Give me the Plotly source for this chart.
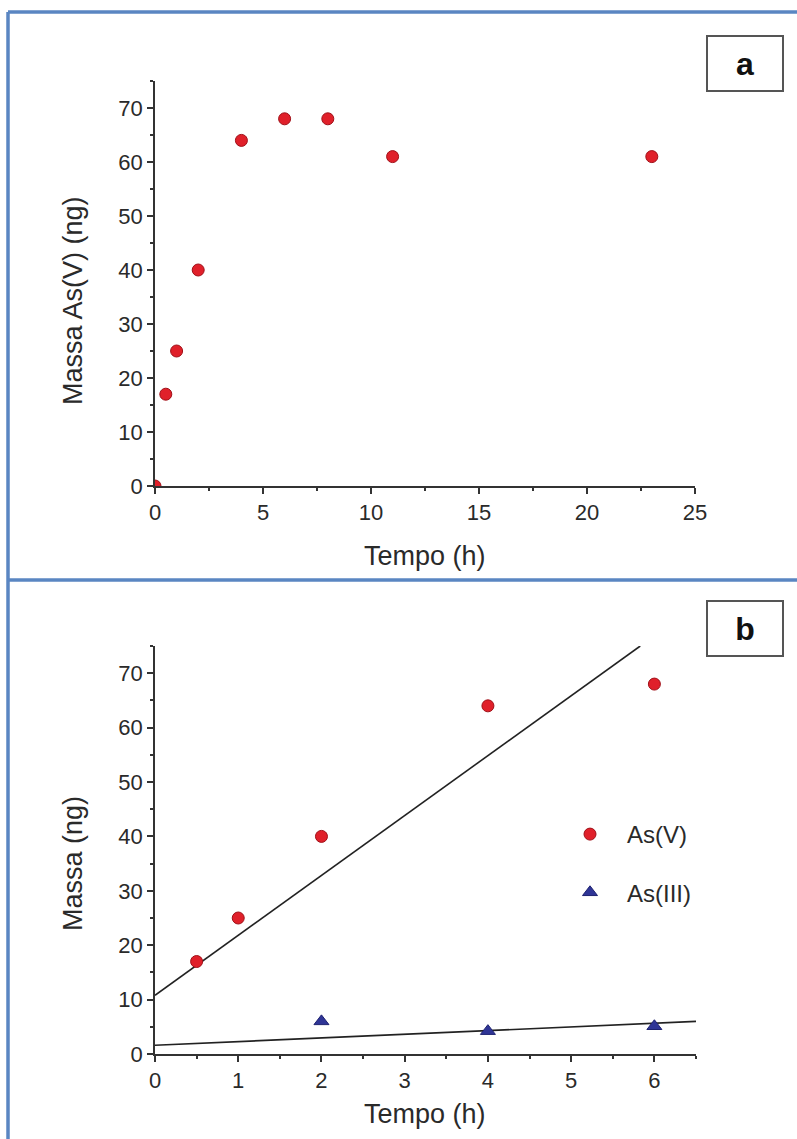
import plotly.graph_objects as go

# ---------------- data ----------------
# Panel a: As(V) mass over time (full 23 h)
time_a = [0, 0.5, 1, 2, 4, 6, 8, 11, 23]
massa_asv_a = [0, 17, 25, 40, 64, 68, 68, 61, 61]

# Panel b: first 6 h
time_b_v = [0.5, 1, 2, 4, 6]
massa_asv_b = [17, 25, 40, 64, 68]
time_b_iii = [2, 4, 6]
massa_asiii_b = [6.0, 4.2, 5.1]

# Fitted lines (end points)
fit_v_x = [0, 5.83]
fit_v_y = [10.8, 75]
fit_iii_x = [0, 6.5]
fit_iii_y = [1.6, 6.0]

tick_labels_y = ["0", "10", "20", "30", "40", "50", "60", "70"]

RED = "#e0202a"
RED_EDGE = "#a01018"
BLUE = "#2f3596"
AXIS = "#333333"
TXT = "#2a2a2a"
FONT = "Liberation Sans, Arial, sans-serif"
W, H = 797, 1139

fig = go.Figure()

# Panel a
fig.add_trace(go.Scatter(x=time_a, y=massa_asv_a, mode="markers", xaxis="x", yaxis="y",
                         marker=dict(color=RED, size=12, line=dict(color=RED_EDGE, width=1)),
                         cliponaxis=True, showlegend=False))

# Panel b
fig.add_trace(go.Scatter(x=fit_v_x, y=fit_v_y, mode="lines", xaxis="x2", yaxis="y2",
                         line=dict(color="#222222", width=1.6), showlegend=False))
fig.add_trace(go.Scatter(x=fit_iii_x, y=fit_iii_y, mode="lines", xaxis="x2", yaxis="y2",
                         line=dict(color="#222222", width=1.6), showlegend=False))
fig.add_trace(go.Scatter(x=time_b_v, y=massa_asv_b, mode="markers", xaxis="x2", yaxis="y2",
                         name="As(V)", legendgroup="v",
                         marker=dict(color=RED, size=12, line=dict(color=RED_EDGE, width=1)),
                         cliponaxis=False))
fig.add_trace(go.Scatter(x=time_b_iii, y=massa_asiii_b, mode="markers", xaxis="x2", yaxis="y2",
                         name="As(III)", legendgroup="iii",
                         marker=dict(color=BLUE, size=13, symbol="triangle-up",
                                     line=dict(color="#1e2270", width=1)),
                         cliponaxis=False))

tickfont = dict(family=FONT, size=22, color=TXT)
titlefont = dict(family=FONT, size=27, color=TXT)

common_x = dict(showgrid=False, zeroline=False, showline=True, linecolor=AXIS, linewidth=1.5,
                ticks="outside", ticklen=6, tickwidth=1.5, tickcolor=AXIS,
                tickfont=tickfont, automargin=False)
common_y = dict(showgrid=False, zeroline=False, showline=True, linecolor=AXIS, linewidth=1.5,
                ticks="outside", ticklen=6, tickwidth=1.5, tickcolor=AXIS,
                tickfont=tickfont, automargin=False,
                tickvals=[int(t) for t in tick_labels_y], ticktext=tick_labels_y,
                minor=dict(ticks="outside", ticklen=3, tickcolor=AXIS, dtick=5, tick0=0))


def px_x(p):
    return p / W


def px_y(p):
    return 1 - p / H


def title_ann(text, x, y, angle=0):
    return dict(text=text, xref="paper", yref="paper", x=px_x(x), y=px_y(y),
                xanchor="center", yanchor="middle", showarrow=False, textangle=angle,
                font=titlefont)


def letter_box(text, x, y):
    return dict(text="<b>%s</b>" % text, xref="paper", yref="paper", x=px_x(x), y=px_y(y),
                xanchor="center", yanchor="middle", showarrow=False,
                font=dict(family=FONT, size=32, color="#111111"),
                width=72, height=51, bordercolor="#555555", borderwidth=2, bgcolor="white")


fig.update_layout(
    width=W, height=H,
    margin=dict(l=0, r=0, t=0, b=0),
    paper_bgcolor="white", plot_bgcolor="rgba(0,0,0,0)",
    xaxis=dict(common_x, domain=[px_x(155), px_x(695)], anchor="y", range=[0, 25], dtick=5,
               minor=dict(ticks="outside", ticklen=3, tickcolor=AXIS, dtick=2.5, tick0=0)),
    yaxis=dict(common_y, domain=[px_y(486), px_y(81)], anchor="x", range=[0, 75]),
    xaxis2=dict(common_x, domain=[px_x(155), px_x(696)], anchor="y2", range=[0, 6.5], dtick=1,
                minor=dict(ticks="outside", ticklen=3, tickcolor=AXIS, dtick=0.5, tick0=0)),
    yaxis2=dict(common_y, domain=[px_y(1054), px_y(646)], anchor="x2", range=[0, 75]),
    legend=dict(x=px_x(553), y=px_y(812), xanchor="left", yanchor="top",
                font=dict(family=FONT, size=24, color=TXT),
                bgcolor="rgba(0,0,0,0)", itemwidth=64, tracegroupgap=24,
                traceorder="grouped"),
    annotations=[
        title_ann("Tempo (h)", 425, 556),
        title_ann("Massa As(V) (ng)", 73, 301, -90),
        title_ann("Tempo (h)", 425, 1114),
        title_ann("Massa (ng)", 73, 864, -90),
        letter_box("a", 745, 63),
        letter_box("b", 745, 628),
    ],
    shapes=[
        dict(type="line", xref="paper", yref="paper", x0=px_x(8), x1=px_x(8), y0=0, y1=px_y(12),
             line=dict(color="#5a86c2", width=3.5)),
        dict(type="line", xref="paper", yref="paper", x0=px_x(8), x1=1, y0=px_y(12), y1=px_y(12),
             line=dict(color="#5a86c2", width=3.5)),
        dict(type="line", xref="paper", yref="paper", x0=px_x(8), x1=1, y0=px_y(580), y1=px_y(580),
             line=dict(color="#5a86c2", width=3.5)),
    ],
)

fig.write_html("out.html")
